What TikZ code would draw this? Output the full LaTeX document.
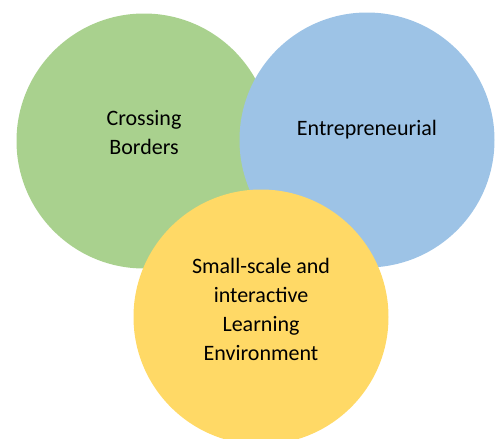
\documentclass[tikz,border=0pt]{standalone}
\usepackage{fontspec}
\setmainfont{Carlito}
\definecolor{greenfill}{HTML}{A9D18E}
\definecolor{bluefill}{HTML}{9DC3E6}
\definecolor{yellowfill}{HTML}{FFD966}
\begin{document}
\begin{tikzpicture}[x=1pt,y=-1pt,
  ball/.style={circle,inner sep=0pt,minimum size=255pt},
  lbl/.style={align=center,text=black,font=\fontsize{22}{29}\selectfont}]
	\useasboundingbox (0,0) rectangle (499,439);
		\foreach \n/\x/\y/\c in {green/144/141/greenfill,blue/367/140/bluefill,yellow/261/317/yellowfill}{%
			\node[ball,fill=\c] (C-\n) at (\x,\y) {};
		}
		\node[lbl] (T-green) at ([yshift=8pt]C-green) {Crossing\\Borders};
		\node[lbl] (T-blue) at ([yshift=10pt]C-blue) {Entrepreneurial};
		\node[lbl] (T-yellow) at ([yshift=8pt]C-yellow) {Small-scale and\\interactive\\Learning\\Environment};
\end{tikzpicture}
\end{document}
